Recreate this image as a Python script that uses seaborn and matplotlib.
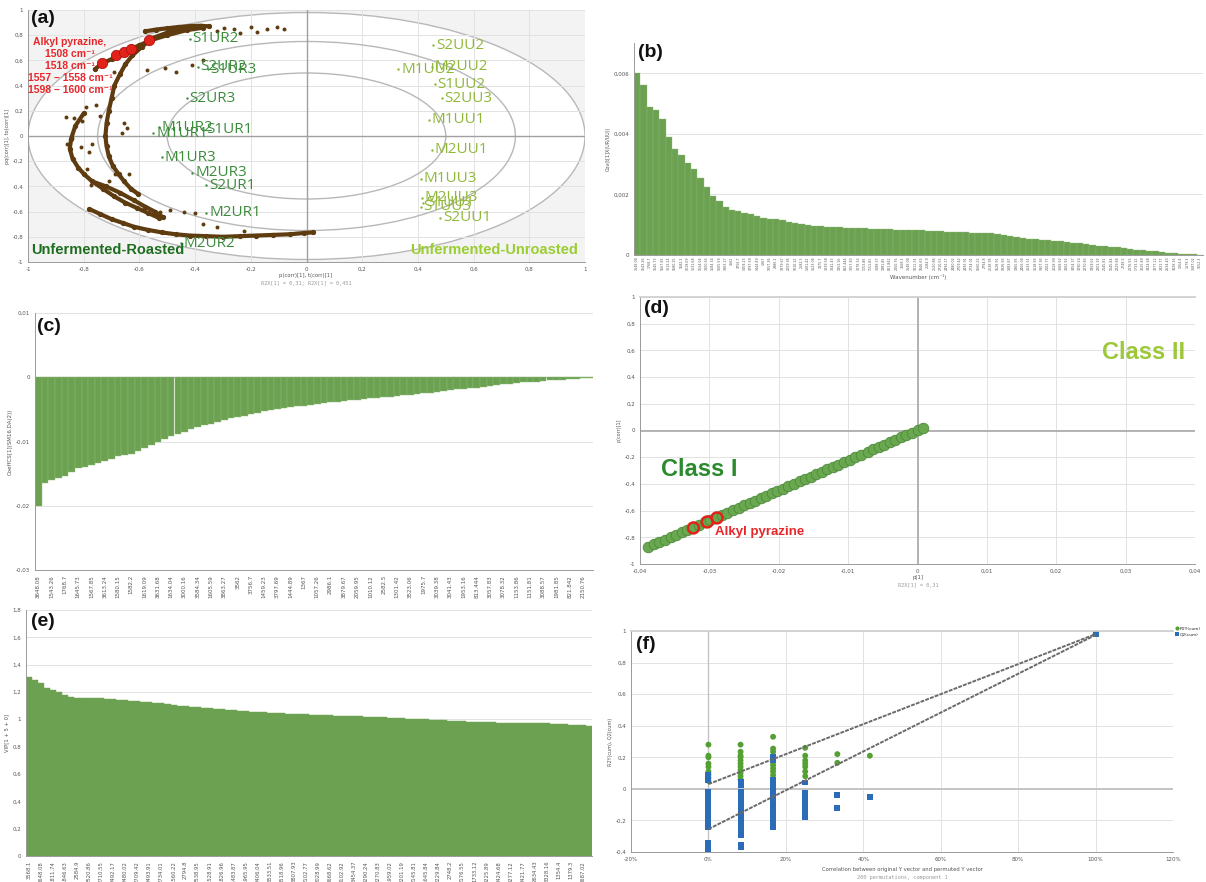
import numpy as np
import pandas as pd
import matplotlib
matplotlib.use("Agg")
import matplotlib.pyplot as plt
from matplotlib.patches import Ellipse
from matplotlib.ticker import FuncFormatter, MultipleLocator
import seaborn as sns

# =========================
# DATA

# (a) correlation loading plot - sample scores
ur_names = ["S1UR2", "S2UR2", "S1UR3", "S2UR3", "M1UR2", "S1UR1",
            "M1UR1", "M1UR3", "M2UR3", "S2UR1", "M2UR1", "M2UR2"]
ur_x = [-0.42, -0.39, -0.355, -0.43, -0.53, -0.37, -0.55, -0.52, -0.41, -0.36, -0.36, -0.45]
ur_y = [0.77, 0.55, 0.53, 0.30, 0.07, 0.05, 0.02, -0.17, -0.29, -0.39, -0.61, -0.85]

uu_names = ["S2UU2", "M1UU2", "M2UU2", "S1UU2", "S2UU3", "M1UU1",
            "M2UU1", "M1UU3", "M2UU3", "S1UU1", "S1UU3", "S2UU1"]
uu_x = [0.455, 0.33, 0.45, 0.46, 0.485, 0.44, 0.45, 0.41, 0.415, 0.42, 0.41, 0.48]
uu_y = [0.72, 0.53, 0.55, 0.41, 0.30, 0.13, -0.11, -0.34, -0.49, -0.53, -0.56, -0.65]

# (a) variable loadings, traced along the dense arcs
arcT_x = [-0.58, -0.54, -0.50, -0.46, -0.42, -0.38, -0.35]
arcT_y = [0.83, 0.845, 0.855, 0.865, 0.872, 0.875, 0.87]
arcA_x = [-0.40, -0.45, -0.50, -0.55, -0.59, -0.625, -0.65, -0.67, -0.69, -0.70,
          -0.71, -0.718, -0.722, -0.718, -0.71, -0.695, -0.675, -0.655, -0.63, -0.605]
arcA_y = [0.87, 0.855, 0.82, 0.78, 0.71, 0.64, 0.57, 0.49, 0.40, 0.30,
          0.20, 0.10, 0.0, -0.08, -0.16, -0.24, -0.30, -0.36, -0.42, -0.46]
arcB_x = [-0.37, -0.43, -0.50, -0.56, -0.60, -0.64, -0.67, -0.70, -0.735, -0.76]
arcB_y = [0.86, 0.84, 0.80, 0.76, 0.72, 0.68, 0.65, 0.61, 0.575, 0.53]
arcC_x = [-0.80, -0.83, -0.845, -0.85, -0.84, -0.82, -0.80, -0.77, -0.73, -0.69,
          -0.65, -0.61, -0.57, -0.53]
arcC_y = [0.18, 0.08, -0.02, -0.10, -0.18, -0.25, -0.30, -0.36, -0.42, -0.48,
          -0.53, -0.57, -0.61, -0.65]
arcD_x = [-0.77, -0.72, -0.67, -0.62, -0.58, -0.545, -0.515]
arcD_y = [-0.36, -0.40, -0.45, -0.51, -0.56, -0.60, -0.645]
arcE_x = [-0.78, -0.74, -0.70, -0.66, -0.62, -0.57, -0.52, -0.47, -0.42, -0.36,
          -0.30, -0.24, -0.18, -0.12, -0.06, -0.01, 0.025]
arcE_y = [-0.58, -0.62, -0.66, -0.69, -0.72, -0.745, -0.765, -0.78, -0.79, -0.795,
          -0.80, -0.795, -0.79, -0.785, -0.78, -0.77, -0.765]
out_x = [-0.865, -0.835, -0.805, -0.841, -0.859, -0.793, -0.757, -0.74, -0.78, -0.77,
         -0.668, -0.69, -0.644, -0.662, -0.656, -0.686, -0.638, -0.71, -0.525, -0.489,
         -0.44, -0.40, -0.572, -0.507, -0.47, -0.41, -0.37, -0.32, -0.26, -0.2,
         -0.142, -0.106, -0.082, -0.238, -0.178, -0.297, -0.787, -0.81, -0.37, -0.32,
         -0.226, -0.775]
out_y = [0.15, 0.145, 0.123, -0.013, -0.066, 0.228, 0.249, 0.157, -0.13, -0.066,
         0.50, 0.51, 0.066, 0.026, 0.105, -0.30, -0.30, -0.354, -0.60, -0.59,
         -0.60, -0.61, 0.525, 0.538, 0.51, 0.564, 0.60, 0.83, 0.853, 0.866,
         0.853, 0.866, 0.848, 0.82, 0.827, 0.858, -0.26, -0.09, -0.695, -0.72,
         -0.75, -0.39]
pyr_x = [-0.735, -0.685, -0.655, -0.63, -0.565]
pyr_y = [0.58, 0.64, 0.67, 0.69, 0.76]

# wavenumber tick labels
wn_c = ["3648.08", "1543.26", "1768.7", "1645.73", "1567.85", "3613.24", "1580.15",
        "1582.2", "1619.09", "3631.68", "1634.04", "3000.16", "3584.34", "1605.59",
        "3863.27", "3562", "3756.7", "1459.23", "3797.69", "1444.89", "1367",
        "1057.26", "2986.1", "3879.67", "2059.95", "1010.12", "2582.5", "1301.42",
        "3523.06", "1975.7", "3039.38", "3041.43", "1953.16", "813.444", "3057.83",
        "3078.32", "1153.86", "1151.81", "3088.57", "1981.85", "821.842", "2150.76"]
wn_e = ["3568.1", "3648.08", "1811.74", "1846.63", "2584.9", "2520.86", "2710.55",
        "2492.17", "2480.02", "2709.42", "2493.91", "2734.01", "1560.22", "2794.8",
        "2538.95", "1528.91", "1826.96", "1483.87", "1965.95", "2406.04", "3533.51",
        "3518.96", "3807.93", "2102.77", "2028.99", "3668.62", "3102.92", "3454.37",
        "3290.24", "2270.83", "1959.02", "2201.19", "2145.81", "1645.84", "2229.84",
        "2748.2", "2176.55", "1733.12", "3225.89", "3424.68", "3277.12", "3421.77",
        "2634.43", "3328.16", "1354.4", "1379.3", "3687.02"]
wn_b = wn_c + wn_e + ["1652.3"]

# (b) covariance, sorted
cov_b = [0.00600, 0.00560, 0.00490, 0.00478, 0.00450, 0.00390, 0.00350, 0.00330, 0.00305, 0.00285,
         0.00255, 0.00225, 0.00195, 0.00178, 0.00160, 0.00148, 0.00144, 0.00140, 0.00135, 0.00128,
         0.00122, 0.00120, 0.00118, 0.00116, 0.00110, 0.00106, 0.00103, 0.00100, 0.00097, 0.00095,
         0.00093, 0.00092, 0.00091, 0.00090, 0.00089, 0.00088, 0.00088, 0.00087, 0.00086, 0.00086,
         0.00085, 0.00084, 0.00084, 0.00083, 0.00082, 0.00081, 0.00080, 0.00079, 0.00078, 0.00077,
         0.00076, 0.00075, 0.00075, 0.00074, 0.00073, 0.00072, 0.00071, 0.00069, 0.00067, 0.00064,
         0.00060, 0.00056, 0.00054, 0.00052, 0.00051, 0.00049, 0.00047, 0.00045, 0.00043, 0.00041,
         0.00039, 0.00036, 0.00033, 0.00031, 0.00029, 0.00027, 0.00025, 0.00022, 0.00020, 0.00018,
         0.00016, 0.00014, 0.00012, 0.00010, 0.00008, 0.00006, 0.00004, 0.00003, 0.00002, 0.00001]

# (c) coefficients, sorted
coef_c = [-0.0200, -0.0165, -0.0160, -0.0157, -0.0154, -0.0148, -0.0142, -0.0139, -0.0136, -0.0134,
          -0.0131, -0.0127, -0.0123, -0.0121, -0.0119, -0.0115, -0.0110, -0.0105, -0.0100, -0.0096,
          -0.0092, -0.0088, -0.0085, -0.0081, -0.0077, -0.0074, -0.0072, -0.0069, -0.0067, -0.0064,
          -0.0062, -0.0060, -0.0057, -0.0055, -0.0053, -0.0051, -0.0049, -0.0048, -0.0047, -0.0045,
          -0.0044, -0.0043, -0.0041, -0.0040, -0.0039, -0.0038, -0.0037, -0.0036, -0.0035, -0.0034,
          -0.0033, -0.0032, -0.0031, -0.0030, -0.0029, -0.0028, -0.0027, -0.0026, -0.0025, -0.0024,
          -0.0023, -0.0022, -0.0020, -0.0019, -0.0018, -0.0017, -0.0016, -0.0015, -0.0013, -0.0012,
          -0.0011, -0.0010, -0.0009, -0.0008, -0.0008, -0.0007, -0.0006, -0.0005, -0.0005, -0.0004,
          -0.0003, -0.0002, -0.0001, -0.0001]

# (d) S-plot
sp_x = [-0.0389, -0.0380, -0.0372, -0.0364, -0.0356, -0.0348, -0.0340, -0.0332, -0.0323, -0.0315,
        -0.0307, -0.0299, -0.0290, -0.0282, -0.0274, -0.0266, -0.0258, -0.0250, -0.0242, -0.0234,
        -0.0226, -0.0218, -0.0210, -0.0202, -0.0194, -0.0186, -0.0178, -0.0170, -0.0162, -0.0154,
        -0.0146, -0.0138, -0.0130, -0.0122, -0.0114, -0.0106, -0.0098, -0.0090, -0.0082, -0.0072,
        -0.0064, -0.0056, -0.0048, -0.0040, -0.0032, -0.0024, -0.0016, -0.0008, 0.0000, 0.0008]
sp_y = [-0.873, -0.853, -0.835, -0.817, -0.799, -0.781, -0.763, -0.745, -0.725, -0.707,
        -0.689, -0.671, -0.651, -0.633, -0.615, -0.597, -0.579, -0.561, -0.543, -0.525,
        -0.507, -0.489, -0.471, -0.453, -0.435, -0.417, -0.399, -0.381, -0.363, -0.345,
        -0.327, -0.309, -0.291, -0.273, -0.255, -0.237, -0.219, -0.201, -0.183, -0.160,
        -0.142, -0.124, -0.106, -0.088, -0.070, -0.052, -0.034, -0.016, 0.002, 0.020]
sp_pyr_x = [-0.0323, -0.0303, -0.0289]
sp_pyr_y = [-0.73, -0.685, -0.655]

# (e) VIP, sorted
vip_e = [1.307, 1.285, 1.268, 1.228, 1.218, 1.198, 1.175, 1.160, 1.158, 1.157,
         1.156, 1.155, 1.154, 1.151, 1.148, 1.145, 1.141, 1.137, 1.133, 1.129,
         1.125, 1.121, 1.116, 1.110, 1.105, 1.101, 1.097, 1.093, 1.090, 1.086,
         1.082, 1.078, 1.074, 1.070, 1.066, 1.063, 1.060, 1.057, 1.054, 1.051,
         1.048, 1.046, 1.043, 1.041, 1.039, 1.038, 1.036, 1.035, 1.033, 1.032,
         1.030, 1.028, 1.027, 1.025, 1.023, 1.021, 1.020, 1.018, 1.016, 1.014,
         1.012, 1.010, 1.008, 1.006, 1.004, 1.002, 1.000, 0.998, 0.996, 0.993,
         0.990, 0.988, 0.986, 0.984, 0.982, 0.980, 0.978, 0.977, 0.975, 0.974,
         0.974, 0.973, 0.973, 0.972, 0.972, 0.971, 0.970, 0.968, 0.966, 0.964,
         0.962, 0.959, 0.955, 0.950]

# (f) permutation test
perm_corr = [0.0, 0.083, 0.167, 0.25, 0.333, 0.417, 1.0]
r2_groups = [[0.28, 0.21, 0.20, 0.16, 0.14, 0.11, 0.09, 0.07, 0.05],
             [0.28, 0.235, 0.21, 0.20, 0.18, 0.16, 0.14, 0.12, 0.10, 0.08, 0.06],
             [0.33, 0.255, 0.235, 0.21, 0.19, 0.17, 0.15, 0.13, 0.11, 0.087, 0.065],
             [0.26, 0.21, 0.18, 0.16, 0.14, 0.11, 0.08],
             [0.22, 0.165],
             [0.21],
             [0.98]]
q2_groups = [[0.087, 0.055, -0.02, -0.06, -0.09, -0.115, -0.135, -0.155, -0.18, -0.2, -0.22, -0.24, -0.34, -0.355, -0.39],
             [0.045, 0.025, -0.02, -0.04, -0.06, -0.08, -0.10, -0.125, -0.145, -0.165, -0.19, -0.21, -0.23, -0.25, -0.27, -0.29, -0.355, -0.37],
             [0.2, 0.18, 0.055, 0.025, 0.0, -0.02, -0.05, -0.07, -0.09, -0.115, -0.135, -0.155, -0.18, -0.2, -0.22, -0.24],
             [0.04, -0.025, -0.05, -0.07, -0.09, -0.115, -0.135, -0.155, -0.18],
             [-0.04, -0.12],
             [-0.05],
             [0.98]]
r2_line = [0.03, 0.98]
q2_line = [-0.255, 0.975]

# =========================
# HELPERS

W, H = 1206, 882
BROWN = "#5e3c10"
BAR = "#6ca151"
UR_COL = "#3c8c3c"
UU_COL = "#8fb83a"


def rect(l, t, r, b):
    return [l / W, 1 - b / H, (r - l) / W, (b - t) / H]


def fp(x, y):
    return x / W, 1 - y / H


def comma_fmt(v, _):
    v = round(v, 6)
    if abs(v) < 1e-9:
        return "0"
    return f"{v:g}".replace(".", ",")


def style_axes(ax, grid_x=True, grid_y=True):
    for s in ["top", "right"]:
        ax.spines[s].set_visible(False)
    for s in ["left", "bottom"]:
        ax.spines[s].set_color("#9a9a9a")
        ax.spines[s].set_linewidth(0.7)
    ax.tick_params(labelsize=4, colors="#555555", length=2, width=0.5, pad=1.5)
    ax.set_axisbelow(True)
    if grid_x:
        ax.xaxis.grid(True, color="#e2e2e2", lw=0.7)
    else:
        ax.xaxis.grid(False)
    if grid_y:
        ax.yaxis.grid(True, color="#e2e2e2", lw=0.7)
    else:
        ax.yaxis.grid(False)


sns.set_theme(style="white")
plt.rcParams["font.family"] = ["DejaVu Sans"]
bold_fam = ["Liberation Sans", "DejaVu Sans"]

fig = plt.figure(figsize=(W / 100, H / 100), dpi=100)

# =========================
# (a)
axA = fig.add_axes(rect(28, 10, 585, 262))
axA.set_facecolor("#f3f3f3")
axA.add_patch(Ellipse((0, 0), 2.0, 1.96, facecolor="white", edgecolor="#b8b8b8", lw=1, zorder=0.2))
axA.add_patch(Ellipse((0, 0), 1.5, 1.5, facecolor="none", edgecolor="#b8b8b8", lw=1, zorder=0.6))
axA.add_patch(Ellipse((0, 0), 1.0, 1.0, facecolor="none", edgecolor="#b8b8b8", lw=1, zorder=0.6))
axA.axhline(0, color="#a0a0a0", lw=1, zorder=0.7)
axA.axvline(0, color="#a0a0a0", lw=1, zorder=0.7)

for ax_, ay_ in [(arcT_x, arcT_y), (arcA_x, arcA_y), (arcB_x, arcB_y),
                 (arcC_x, arcC_y), (arcD_x, arcD_y), (arcE_x, arcE_y)]:
    axA.plot(ax_, ay_, color=BROWN, lw=3.0, marker="o", ms=2.8,
             solid_capstyle="round", solid_joinstyle="round", zorder=2)
sns.scatterplot(x=out_x, y=out_y, color=BROWN, s=8, linewidth=0, ax=axA, zorder=2)
sns.scatterplot(x=pyr_x, y=pyr_y, color="#e2231a", s=55, edgecolor="#b01010",
                linewidth=0.6, ax=axA, zorder=3)
sns.scatterplot(x=ur_x, y=ur_y, color=UR_COL, s=3, linewidth=0, ax=axA, zorder=4)
sns.scatterplot(x=uu_x, y=uu_y, color=UU_COL, s=3, linewidth=0, ax=axA, zorder=4)
for n, x, y in zip(ur_names, ur_x, ur_y):
    axA.text(x + 0.01, y, n, color=UR_COL, fontsize=11, va="center", ha="left",
             family="Open Sans", zorder=5)
for n, x, y in zip(uu_names, uu_x, uu_y):
    axA.text(x + 0.01, y, n, color=UU_COL, fontsize=11, va="center", ha="left",
             family="Open Sans", zorder=5)

axA.set_xlim(-1, 1)
axA.set_ylim(-1, 1)
axA.xaxis.set_major_locator(MultipleLocator(0.2))
axA.yaxis.set_major_locator(MultipleLocator(0.2))
axA.xaxis.set_major_formatter(FuncFormatter(comma_fmt))
axA.yaxis.set_major_formatter(FuncFormatter(comma_fmt))
style_axes(axA)
axA.set_ylabel("pq(corr)[1], to(corr)[1]", fontsize=3.5, color="#555555", labelpad=2)
axA.text(-0.99, -0.905, "Unfermented-Roasted", color="#1f6e1f", fontsize=10.5,
         fontweight="bold", family=bold_fam, va="center", ha="left", zorder=6)
axA.text(0.975, -0.905, "Unfermented-Unroasted", color="#9acd32", fontsize=10.5,
         fontweight="bold", family=bold_fam, va="center", ha="right", zorder=6)
fig.text(*fp(70, 37), "Alkyl pyrazine,\n1508 cm\u207b\u00b9\n1518 cm\u207b\u00b9\n"
         "1557 \u2013 1558 cm\u207b\u00b9\n1598 \u2013 1600 cm\u207b\u00b9",
         color="#e8262a", fontsize=7.5, fontweight="bold", family=bold_fam,
         ha="center", va="top", linespacing=1.25, zorder=6)
fig.text(*fp(306, 276), "p(corr)[1], t(corr)[1]", fontsize=3.8, color="#555555", ha="center", va="center")
fig.text(*fp(306, 283), "R2X[1] = 0,31; R2X[1] = 0,451", fontsize=3.8, color="#9a9a9a",
         ha="center", va="center", family="DejaVu Sans Mono")

# =========================
# (b)
axB = fig.add_axes(rect(634, 43, 1203, 255))
sns.barplot(x=list(range(len(cov_b))), y=cov_b, color=BAR, width=1, saturation=1,
            edgecolor="#8dbb78", linewidth=0.25, ax=axB)
axB.set_ylim(0, 0.007)
axB.set_yticks([0, 0.002, 0.004, 0.006])
axB.yaxis.set_major_formatter(FuncFormatter(comma_fmt))
style_axes(axB, grid_x=False)
axB.set_xticks(range(len(wn_b)))
axB.set_xticklabels(wn_b, rotation=90, fontsize=2.3)
axB.tick_params(axis="x", length=0, pad=1)
axB.set_xlabel("Wavenumber (cm\u207b\u00b9)", fontsize=4, color="#555555", labelpad=3)
axB.set_ylabel("Cov(t[1]X(UR/UU))", fontsize=3.5, color="#555555", labelpad=2)

# =========================
# (c)
axC = fig.add_axes(rect(35, 313, 593, 570))
sns.barplot(x=list(range(len(coef_c))), y=coef_c, color=BAR, width=1, saturation=1,
            edgecolor="#8dbb78", linewidth=0.3, ax=axC)
axC.axhline(0, color="#a8a8a8", lw=0.8, zorder=0.8)
axC.set_ylim(-0.03, 0.01)
axC.set_yticks([-0.03, -0.02, -0.01, 0, 0.01])
axC.yaxis.set_major_formatter(FuncFormatter(comma_fmt))
style_axes(axC, grid_x=False)
axC.set_xticks(range(0, len(coef_c), 2))
axC.set_xticklabels(wn_c, rotation=90, fontsize=4)
axC.set_ylabel("CoeffCS[1](SM16.DA(2))", fontsize=4, color="#555555", labelpad=2)

# =========================
# (d)
axD = fig.add_axes(rect(640, 297, 1195, 564))
axD.axhline(0, color="#a8a8a8", lw=1.2, zorder=0.8)
axD.axvline(0, color="#a8a8a8", lw=1.2, zorder=0.8)
sns.scatterplot(x=sp_x, y=sp_y, s=58, color="#6aa84f", edgecolor="#4b8a3b",
                linewidth=0.6, ax=axD, zorder=2)
axD.scatter(sp_pyr_x, sp_pyr_y, s=62, facecolors="none", edgecolors="#e2231a",
            linewidths=1.8, zorder=3)
axD.set_xlim(-0.04, 0.04)
axD.set_ylim(-1, 1)
axD.xaxis.set_major_locator(MultipleLocator(0.01))
axD.yaxis.set_major_locator(MultipleLocator(0.2))
axD.xaxis.set_major_formatter(FuncFormatter(comma_fmt))
axD.yaxis.set_major_formatter(FuncFormatter(comma_fmt))
style_axes(axD)
axD.spines["top"].set_visible(True)
axD.spines["top"].set_color("#cfcfcf")
axD.set_ylabel("p(corr)[1]", fontsize=3.5, color="#555555", labelpad=2)
axD.text(-0.0370, -0.29, "Class I", color="#2b8a2e", fontsize=17, fontweight="bold",
         family=bold_fam, ha="left", va="center")
axD.text(0.0386, 0.585, "Class II", color="#9dc83a", fontsize=17, fontweight="bold",
         family=bold_fam, ha="right", va="center")
axD.text(-0.0292, -0.757, "Alkyl pyrazine", color="#e8262a", fontsize=9.5, fontweight="bold",
         family=bold_fam, ha="left", va="center")
fig.text(*fp(918, 578), "p[1]", fontsize=3.8, color="#555555", ha="center", va="center")
fig.text(*fp(918, 586), "R2X[1] = 0,31", fontsize=3.8, color="#9a9a9a", ha="center",
         va="center", family="DejaVu Sans Mono")

# =========================
# (e)
axE = fig.add_axes(rect(26, 610, 592, 856))
sns.barplot(x=list(range(len(vip_e))), y=vip_e, color=BAR, width=1, saturation=1,
            edgecolor=BAR, linewidth=0.3, ax=axE)
axE.set_ylim(0, 1.8)
axE.yaxis.set_major_locator(MultipleLocator(0.2))
axE.yaxis.set_major_formatter(FuncFormatter(comma_fmt))
style_axes(axE, grid_x=False)
axE.set_xticks(range(0, len(vip_e), 2))
axE.set_xticklabels(wn_e, rotation=90, fontsize=3.8)
axE.set_ylabel("VIP[1 + 5 + 0]", fontsize=3.8, color="#555555", labelpad=2)

# =========================
# (f)
axF = fig.add_axes(rect(631, 631, 1173, 852))
perm = pd.DataFrame(
    [(c, v, "R2Y(cum)") for c, g in zip(perm_corr, r2_groups) for v in g] +
    [(c, v, "Q2(cum)") for c, g in zip(perm_corr, q2_groups) for v in g],
    columns=["corr", "value", "kind"])
axF.axhline(0, color="#c4c4c4", lw=1.4, zorder=0.8)
axF.axvline(0, color="#c4c4c4", lw=1.0, zorder=0.8)
axF.plot([0, 1], r2_line, color="#6a6a6a", lw=1.4, ls=(0, (2, 0.6)), zorder=3)
axF.plot([0, 1], q2_line, color="#6a6a6a", lw=1.4, ls=(0, (2, 0.6)), zorder=3)
sns.scatterplot(data=perm, x="corr", y="value", hue="kind", style="kind",
                hue_order=["R2Y(cum)", "Q2(cum)"], style_order=["R2Y(cum)", "Q2(cum)"],
                palette={"R2Y(cum)": "#55a032", "Q2(cum)": "#2a6cb8"},
                markers={"R2Y(cum)": "o", "Q2(cum)": "s"}, s=18, linewidth=0,
                ax=axF, zorder=2)
axF.set_xlim(-0.2, 1.2)
axF.set_ylim(-0.4, 1)
axF.xaxis.set_major_locator(MultipleLocator(0.2))
axF.yaxis.set_major_locator(MultipleLocator(0.2))
axF.xaxis.set_major_formatter(FuncFormatter(lambda v, _: f"{int(round(v * 100))}%"))
axF.yaxis.set_major_formatter(FuncFormatter(comma_fmt))
style_axes(axF)
axF.spines["top"].set_visible(True)
axF.spines["top"].set_color("#cfcfcf")
axF.set_xlabel("")
axF.set_ylabel("R2Y(cum), Q2(cum)", fontsize=3.5, color="#555555", labelpad=2)
axF.legend(loc="upper left", bbox_to_anchor=(1.003, 1.02), fontsize=3.2, frameon=False,
           handletextpad=0.05, handlelength=1.0, markerscale=0.7, borderaxespad=0,
           borderpad=0, labelspacing=0.3)
fig.text(*fp(902, 869), "Correlation between original Y vector and permuted Y vector",
         fontsize=3.8, color="#555555", ha="center", va="center")
fig.text(*fp(902, 877), "200 permutations, component 1", fontsize=3.8, color="#9a9a9a",
         ha="center", va="center", family="DejaVu Sans Mono")

# =========================
# panel letters
for lab, x, y in [("(a)", 31, 10), ("(b)", 638, 44), ("(c)", 37, 318),
                  ("(d)", 644, 300), ("(e)", 31, 613), ("(f)", 636, 636)]:
    fig.text(*fp(x, y), lab, fontsize=14, fontweight="bold", family=bold_fam,
             color="#111111", ha="left", va="top")

fig.savefig("out.png", dpi=100)
